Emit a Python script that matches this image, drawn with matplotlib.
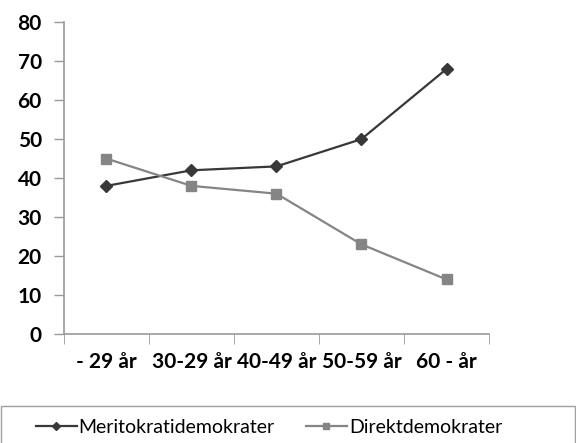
import numpy as np
import matplotlib
matplotlib.use('Agg')
import matplotlib.pyplot as plt
from matplotlib.patches import Rectangle
from matplotlib.lines import Line2D

plt.rcParams['font.family'] = ['Lato', 'DejaVu Sans']

# data
categories = ['- 29 år', '30-29 år', '40-49 år', '50-59 år', '60 - år']
meritokrati = [38, 42, 43, 50, 68]
direkt = [45, 38, 36, 23, 14]
yticks = [0, 10, 20, 30, 40, 50, 60, 70, 80]

DARK = '#383838'
GRAY = '#858585'
AXIS = '#9a9a9a'

fig = plt.figure(figsize=(5.76, 4.43), dpi=100)
ax = fig.add_axes([0.111, 0.246, 0.738, 0.704])

x = np.arange(len(categories))
ax.plot(x, meritokrati, color=DARK, lw=1.6, marker='D', ms=6, mfc=DARK, mec=DARK)
ax.plot(x, direkt, color=GRAY, lw=1.6, marker='s', ms=6.5, mfc=GRAY, mec=GRAY)

ax.set_xlim(-0.5, len(categories) - 0.5)
ax.set_ylim(0, 80)
ax.set_yticks(yticks)
ax.set_yticklabels([str(v) for v in yticks], fontsize=15, fontweight='bold')
ax.set_xticks(x)
ax.set_xticklabels(categories, fontsize=15, fontweight='bold')
ax.set_xticks(np.arange(len(categories) + 1) - 0.5, minor=True)
ax.tick_params(axis='x', which='major', length=0, pad=13)
ax.tick_params(axis='x', which='minor', length=7, color=AXIS, direction='out')
ax.tick_params(axis='y', length=7, color=AXIS, width=1, pad=9)

for s in ['top', 'right']:
    ax.spines[s].set_visible(False)
for s in ['left', 'bottom']:
    ax.spines[s].set_color(AXIS)
    ax.spines[s].set_linewidth(1.2)

# legend box running off the bottom of the figure
fig.patches.append(Rectangle((0.002, -0.05), 0.996, (443 - 406) / 443 + 0.05,
                             transform=fig.transFigure, fill=False,
                             edgecolor='#a0a0a0', lw=1.0, clip_on=False))
handles = [Line2D([], [], color=DARK, lw=1.6, marker='D', ms=4.5),
           Line2D([], [], color=GRAY, lw=1.6, marker='s', ms=5)]
fig.legend(handles, ['Meritokratidemokrater', 'Direktdemokrater'],
           loc='center', bbox_to_anchor=(0.467, 0.036), ncol=2, frameon=False,
           fontsize=14, handlelength=2.1, handletextpad=0.1, columnspacing=1.6)

fig.savefig('out.png', dpi=100)
